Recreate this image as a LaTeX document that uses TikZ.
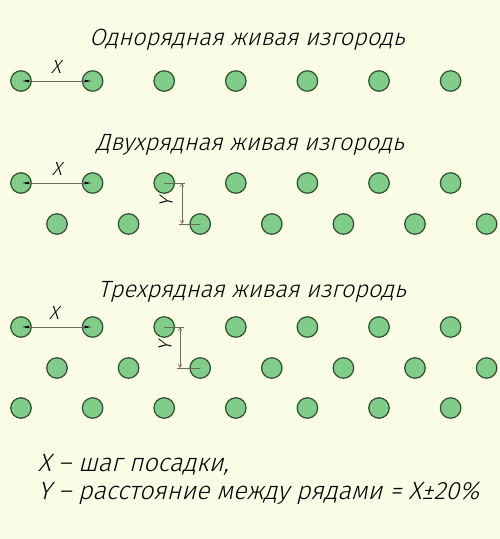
\documentclass[tikz,border=0pt]{standalone}
\usepackage{fontspec}
\setmainfont{Fira Sans Light}[FakeSlant=0.25]
\usetikzlibrary{arrows.meta}
\definecolor{bg}{HTML}{FAFCE6}
\definecolor{plantfill}{HTML}{80CC88}
\definecolor{plantline}{HTML}{2F4F33}
\definecolor{dimgray}{HTML}{6A6A60}
\begin{document}
\begin{tikzpicture}[x=1pt,y=-1pt,
  plant/.style={circle, draw=plantline, fill=plantfill, line width=1.2pt, minimum size=20.5pt, inner sep=0pt},
  title/.style={font=\fontsize{23.5}{26}\selectfont, inner sep=0pt},
  lab/.style={font=\fontsize{19}{22}\selectfont, inner sep=0pt},
  legend/.style={font=\fontsize{25}{28}\selectfont, inner sep=0pt, anchor=west},
  dimx/.style={draw=dimgray, line width=0.7pt, {Latex[length=8pt,width=2.6pt,black]}-{Latex[length=8pt,width=2.6pt,black]}},
  dimy/.style={draw=dimgray, line width=0.6pt, {Straight Barb[length=3pt,width=3.5pt]}-{Straight Barb[length=3pt,width=3.5pt]}},
  ext/.style={draw=dimgray, line width=0.6pt}]
\fill[bg] (0,0) rectangle (500,539);
\useasboundingbox (0,0) rectangle (500,539);

% titles
\node[title] (t1) at (247,40) {Однорядная живая изгородь};
\node[title] (t2) at (250,145) {Двухрядная живая изгородь};
\node[title] (t3) at (252,292) {Трехрядная живая изгородь};

% single row
\foreach \i in {0,...,6} \node[plant] (a\i) at ({21+71.6*\i},81) {};
% double row
\foreach \i in {0,...,6} \node[plant] (b\i) at ({21+71.6*\i},183) {};
\foreach \i in {0,...,6} \node[plant] (bb\i) at ({57+71.6*\i},224) {};
% triple row
\foreach \i in {0,...,6} \node[plant] (c\i) at ({21+71.6*\i},327) {};
\foreach \i in {0,...,6} \node[plant] (cc\i) at ({57+71.6*\i},368) {};
\foreach \i in {0,...,6} \node[plant] (ccc\i) at ({21+71.6*\i},408) {};

% X dimensions
\draw[dimx] (a0.center) -- (a1.center);
\node[lab] (xa) at (56,67) {X};
\draw[dimx] (b0.center) -- (b1.center);
\node[lab] (xb) at (57,169) {X};
\draw[dimx] (c0.center) -- (c1.center);
\node[lab] (xc) at (54,313) {X};

% Y dimension, double row
\coordinate (eb1) at (185,183);
\coordinate (eb2) at (179,224);
\coordinate (db1) at (182,183);
\coordinate (db2) at (182,224);
\draw[ext] (b2.center) -- (eb1);
\draw[ext] (bb2.center) -- (eb2);
\draw[dimy] (db1) -- (db2);
\node[lab, rotate=90] (yb) at (166,203) {Y};

% Y dimension, triple row
\coordinate (ec1) at (184,327);
\coordinate (ec2) at (177,368);
\coordinate (dc1) at (180,327);
\coordinate (dc2) at (180,368);
\draw[ext] (c2.center) -- (ec1);
\draw[ext] (cc2.center) -- (ec2);
\draw[dimy] (dc1) -- (dc2);
\node[lab, rotate=90] (yc) at (165,347) {Y};

% legend
\node[legend] (l1) at (38,465) {X – шаг посадки,};
\node[legend] (l2) at (38,493) {Y – расстояние между рядами = X±20\%};
\end{tikzpicture}
\end{document}
